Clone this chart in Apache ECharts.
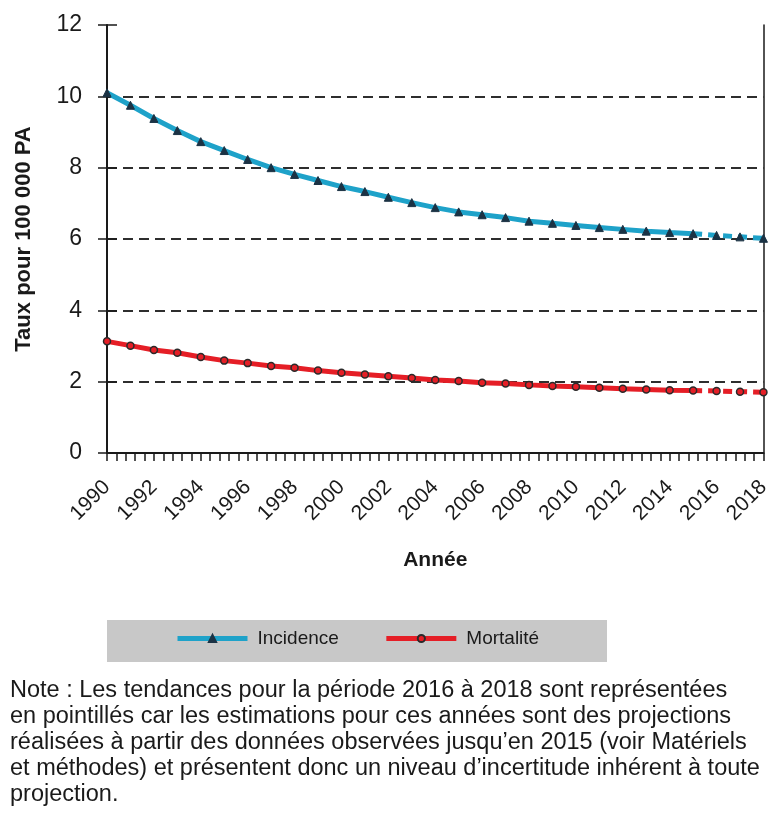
<!DOCTYPE html>
<html>
<head>
<meta charset="utf-8">
<script src="https://cdn.jsdelivr.net/npm/echarts@6/dist/echarts.min.js"></script>
<style>
  html, body { margin: 0; padding: 0; background: #fff; }
  #chart { width: 773px; height: 824px; }
</style>
</head>
<body>
<div id="chart"></div>
<script>
// Data
const years = [1990, 1991, 1992, 1993, 1994, 1995, 1996, 1997, 1998, 1999, 2000, 2001, 2002, 2003,
  2004, 2005, 2006, 2007, 2008, 2009, 2010, 2011, 2012, 2013, 2014, 2015, 2016, 2017, 2018];
const incidence = [10.1, 9.75, 9.38, 9.04, 8.73, 8.48, 8.23, 8.0, 7.81, 7.64, 7.47, 7.33, 7.17, 7.02,
  6.88, 6.76, 6.68, 6.6, 6.5, 6.44, 6.38, 6.32, 6.27, 6.22, 6.18, 6.15, 6.1, 6.06, 6.02];
const mortalite = [3.13, 3.01, 2.89, 2.81, 2.69, 2.59, 2.52, 2.44, 2.39, 2.31, 2.25, 2.2, 2.15, 2.1,
  2.05, 2.02, 1.97, 1.95, 1.91, 1.88, 1.86, 1.83, 1.8, 1.78, 1.76, 1.75, 1.74, 1.72, 1.7];
const lastObserved = 2015;
const noteLines = [
  "Note : Les tendances pour la période 2016 à 2018 sont représentées",
  "en pointillés car les estimations pour ces années sont des projections",
  "réalisées à partir des données observées jusqu’en 2015 (voir Matériels",
  "et méthodes) et présentent donc un niveau d’incertitude inhérent à toute",
  "projection."
];

const FONT = "'Liberation Sans', Arial, sans-serif";
const BLUE = "#1ea2c9";
const RED = "#e51e26";
const INK = "#1a1a1a";

// split observed / projected parts
const observed = (vals) => years.filter(y => y <= lastObserved).map((y, i) => [y, vals[i]]);
const projected = (vals) => years.map((y, i) => [y, vals[i]])
  .filter(p => p[0] >= lastObserved)
  .map(p => p[0] === lastObserved ? {value: p, symbol: "none"} : p);

const chart = echarts.init(document.getElementById("chart"));

const markerIncidence = {
  symbol: "triangle",
  symbolSize: 8,
  itemStyle: {color: "#1b3244", borderColor: "#1b3244", borderWidth: 1},
};
const markerMortalite = {
  symbol: "circle",
  symbolSize: 7,
  itemStyle: {color: RED, borderColor: "#2a2a2a", borderWidth: 1.5},
};

const option = {
  animation: false,
  backgroundColor: "#fff",
  grid: {left: 107, right: 6, top: 25, bottom: 371},
  legend: {
    data: ["Incidence", "Mortalité"],
    left: 175,
    top: 629,
    padding: 0,
    itemWidth: 70,
    itemHeight: 9,
    itemGap: 45,
    lineStyle: {width: 5},
    textStyle: {fontFamily: FONT, fontSize: 19, color: INK, padding: [0, 0, 0, 5]},
  },
  xAxis: {
    type: "value",
    min: 1990,
    max: 2018,
    interval: 2,
    name: "Année",
    nameLocation: "middle",
    nameGap: 97,
    nameTextStyle: {fontFamily: FONT, fontSize: 21, fontWeight: "bold", color: INK},
    axisLine: {show: true, onZero: false, lineStyle: {color: INK, width: 2}},
    axisTick: {show: true, length: 8, lineStyle: {color: INK, width: 1.5}},
    minorTick: {show: true, splitNumber: 5, length: 8, lineStyle: {color: INK, width: 1.5}},
    splitLine: {show: false},
    axisLabel: {
      rotate: 45,
      margin: 31,
      fontFamily: FONT,
      fontSize: 21,
      color: INK,
      formatter: (v) => String(v),
    },
  },
  yAxis: [
    {
      type: "value",
      min: 0,
      max: 12,
      interval: 2,
      name: "Taux pour 100 000 PA",
      nameLocation: "middle",
      nameGap: 72,
      nameTextStyle: {fontFamily: FONT, fontSize: 22, fontWeight: "bold", color: INK},
      axisLine: {show: true, lineStyle: {color: INK, width: 2}},
      axisTick: {show: true, length: 9, lineStyle: {color: INK, width: 1.5}},
      axisLabel: {margin: 25, fontFamily: FONT, fontSize: 23, color: INK},
      splitLine: {
        show: true,
        showMinLine: false,
        showMaxLine: false,
        lineStyle: {color: "#2e2e2e", width: 2, type: [10, 6]},
      },
    },
    {
      // inward half of the crossing ticks
      type: "value",
      min: 0,
      max: 12,
      interval: 2,
      position: "left",
      axisLine: {show: false},
      axisTick: {show: true, inside: true, length: 10, lineStyle: {color: INK, width: 1.5}},
      axisLabel: {show: false},
      splitLine: {show: false},
    },
    {
      // right frame line
      type: "value",
      min: 0,
      max: 12,
      position: "right",
      axisLine: {show: true, lineStyle: {color: INK, width: 1.5}},
      axisTick: {show: false},
      axisLabel: {show: false},
      splitLine: {show: false},
    },
  ],
  graphic: [
    {
      type: "rect",
      z: -1,
      shape: {x: 107, y: 620, width: 500, height: 42},
      style: {fill: "#c8c8c8"},
    },
    {
      type: "text",
      left: 10,
      top: 678,
      style: {
        text: noteLines.join("\n"),
        fontFamily: FONT,
        fontSize: 23.5,
        lineHeight: 26,
        fill: INK,
      },
    },
  ],
  series: [
    {
      name: "Incidence",
      type: "line",
      data: observed(incidence),
      ...markerIncidence,
      lineStyle: {color: BLUE, width: 5},
      z: 3,
    },
    {
      name: "Incidence (projection)",
      type: "line",
      data: projected(incidence),
      ...markerIncidence,
      lineStyle: {color: BLUE, width: 5, type: [9, 6]},
      z: 3,
    },
    {
      name: "Mortalité",
      type: "line",
      data: observed(mortalite),
      ...markerMortalite,
      lineStyle: {color: RED, width: 5},
      z: 3,
    },
    {
      name: "Mortalité (projection)",
      type: "line",
      data: projected(mortalite),
      ...markerMortalite,
      lineStyle: {color: RED, width: 5, type: [9, 6]},
      z: 3,
    },
  ],
};

chart.setOption(option);
</script>
</body>
</html>
